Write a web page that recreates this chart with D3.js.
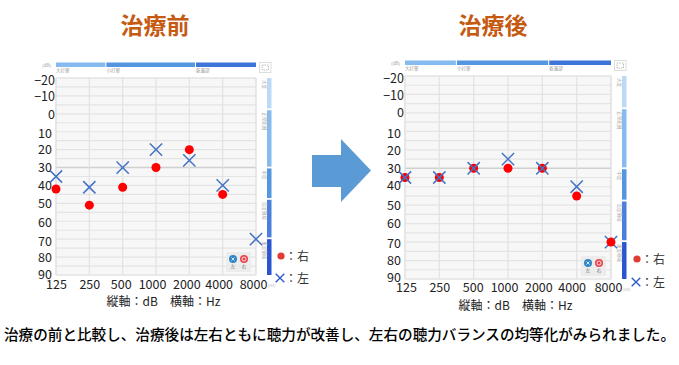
<!DOCTYPE html>
<html>
<head>
<meta charset="utf-8">
<script src="https://cdn.jsdelivr.net/npm/d3@7/dist/d3.min.js"></script>
<style>
  html, body { margin: 0; padding: 0; background: #fff; }
  svg { display: block; }
  text { font-family: "Noto Sans CJK JP", "Open Sans", sans-serif; }
</style>
</head>
<body>
<script>
const w = 679;
const h = 365;

// values
const freqs = ["125", "250", "500", "1000", "2000", "4000", "8000"];
const dbTicks = [-20, -10, 0, 10, 20, 30, 40, 50, 60, 70, 80, 90];
const gridDb = d3.range(-20, 95, 5);

const beforeRight = [42, 51, 41, 30, 20, 45, null];
const beforeLeft = [35, 41, 30, 20, 26, 40, 70];
const afterRight = [35, 35, 30, 30, 30, 45, 70];
const afterLeft = [35, 35, 30, 25, 30, 40, 70];

const hBands = ["大打撃", "小打撃", "乾濁部"];
const hBandEdges = [[0, 0.247], [0.252, 0.695], [0.7, 1]];
const hBandColors = ["#85bbee", "#5596e0", "#3f75d8"];
const vBands = ["大度", "正常範囲", "中度", "高度領域", "重度領域"];
const vBandColors = ["#bbdaf5", "#85bbee", "#5596e0", "#4a80dc", "#2a55d0"];
// dB limits of the right hand strip
const vBandDb = [[-20, -3], [-2, 29.5], [30.5, 47], [48, 69], [70, 90]];

const svg = d3.select("body").append("svg").attr("width", w).attr("height", h);

// left panel and right panel only differ in placement
drawPanel({
  title: "治療前", titleX: 155,
  x0: 56, x1: 256, y0: 78, y1: 275,
  rightEar: beforeRight, leftEar: beforeLeft,
  xShift: [0, 0, -2, -4, -3, -4, -3],
  yShift: [2, 1, 1, 2, 0, 0, 0, 0, 1, 2, 0, -1],
  tickY: 287, captionX: 163.5, captionY: 306,
  legendX: 281, legendY: [256, 278]
});
drawPanel({
  title: "治療後", titleX: 493,
  x0: 405, x1: 611, y0: 76, y1: 279,
  rightEar: afterRight, leftEar: afterLeft,
  xShift: [1, 0, -1, -4, -4, -5, -3],
  yShift: [2, 1, 0, 2, 1, 0, -1, 0, 0, 1, 0, -2],
  tickY: 290, captionX: 515.5, captionY: 310,
  legendX: 637, legendY: [259, 282]
});

function drawPanel(p) {
  const x = d3.scalePoint().domain(freqs).range([p.x0, p.x1]);
  const y = d3.scaleLinear().domain([-20, 90]).range([p.y0, p.y1]);
  const g = svg.append("g");

  g.append("text")
    .attr("x", p.titleX).attr("y", 34)
    .attr("text-anchor", "middle")
    .attr("font-size", 23).attr("font-weight", 700)
    .attr("fill", "#c55a11")
    .text(p.title);

  // plot background
  g.append("rect")
    .attr("x", p.x0).attr("y", p.y0)
    .attr("width", p.x1 - p.x0).attr("height", p.y1 - p.y0)
    .attr("fill", "#f7f7f7").attr("stroke", "#e4e4e4");

  g.selectAll(".hgrid").data(gridDb).enter().append("line")
    .attr("x1", p.x0).attr("x2", p.x1)
    .attr("y1", (d) => y(d)).attr("y2", (d) => y(d))
    .attr("stroke", (d) => (d === 30 ? "#d0d0d0" : "#e4e4e4"))
    .attr("stroke-width", (d) => (d === 30 ? 1.6 : 1.2));

  g.selectAll(".vgrid").data(freqs).enter().append("line")
    .attr("x1", (d) => x(d)).attr("x2", (d) => x(d))
    .attr("y1", p.y0).attr("y2", p.y1)
    .attr("stroke", "#e2e2e2").attr("stroke-width", 1.2);

  // top strip with the loudness bands
  const stripW = p.x1 - p.x0;
  const stripY = p.y0 - 15.5;
  hBands.forEach((name, i) => {
    const a = p.x0 + hBandEdges[i][0] * stripW;
    const b = p.x0 + hBandEdges[i][1] * stripW;
    g.append("rect").attr("x", a).attr("y", stripY)
      .attr("width", b - a).attr("height", 4.5)
      .attr("fill", hBandColors[i]);
    g.append("text").attr("x", a).attr("y", stripY + 9.5)
      .attr("font-size", 4.5).attr("fill", "#999").text(name);
  });
  g.append("text").attr("x", p.x0 - 2).attr("y", stripY + 4)
    .attr("text-anchor", "end").attr("font-size", 4.5).attr("fill", "#999")
    .text("（dB）");
  g.append("text").attr("x", p.x1 + 12).attr("y", p.y1 + 12)
    .attr("font-size", 4).attr("fill", "#bbb")
    .text("(Hz)");

  // fit icon
  g.append("rect").attr("x", p.x1 + 3.5).attr("y", stripY)
    .attr("width", 11.5).attr("height", 10)
    .attr("fill", "#fff").attr("stroke", "#ddd");
  g.append("rect").attr("x", p.x1 + 6).attr("y", stripY + 2.5)
    .attr("width", 6.5).attr("height", 5)
    .attr("fill", "none").attr("stroke", "#bbb").attr("stroke-dasharray", "1.5 1");

  // right strip
  vBands.forEach((name, i) => {
    const a = y(vBandDb[i][0]);
    const b = y(vBandDb[i][1]);
    g.append("rect").attr("x", p.x1 + 11).attr("y", a)
      .attr("width", 4.5).attr("height", b - a)
      .attr("fill", vBandColors[i]);
    g.append("text")
      .attr("transform", `translate(${p.x1 + 7},${a + 2}) rotate(90)`)
      .attr("font-size", 4.5).attr("fill", "#aaa").text(name);
  });

  // small ear key inside the plot
  const kx = p.x1 - 30;
  const ky = p.y1 - 23;
  g.append("rect").attr("x", kx).attr("y", ky)
    .attr("width", 25).attr("height", 20).attr("fill", "#ececec");
  g.append("circle").attr("cx", kx + 7).attr("cy", ky + 7).attr("r", 4).attr("fill", "#2f86c9");
  g.append("path")
    .attr("d", d3.line()([[kx + 5.5, ky + 5.5], [kx + 8.5, ky + 8.5]]) + d3.line()([[kx + 8.5, ky + 5.5], [kx + 5.5, ky + 8.5]]))
    .attr("stroke", "#fff").attr("stroke-width", 0.8);
  g.append("circle").attr("cx", kx + 18).attr("cy", ky + 7).attr("r", 4).attr("fill", "#e8434c");
  g.append("circle").attr("cx", kx + 18).attr("cy", ky + 7).attr("r", 2).attr("fill", "none")
    .attr("stroke", "#fff").attr("stroke-width", 0.8);
  g.append("text").attr("x", kx + 7).attr("y", ky + 16).attr("text-anchor", "middle")
    .attr("font-size", 4.5).attr("fill", "#777").text("左");
  g.append("text").attr("x", kx + 18).attr("y", ky + 16).attr("text-anchor", "middle")
    .attr("font-size", 4.5).attr("fill", "#777").text("右");

  // axes, only the labels are visible
  const yAxis = g.append("g")
    .attr("transform", `translate(${p.x0},0)`)
    .call(d3.axisLeft(y).tickValues(dbTicks).tickSize(0).tickPadding(1));
  yAxis.select(".domain").remove();
  yAxis.selectAll("text")
    .attr("font-family", '"Open Sans", sans-serif')
    .attr("font-size", 12.5).attr("fill", "#222")
    .attr("dx", (d) => (d > 0 ? -3 : 0))
    .attr("y", (d, i) => p.yShift[i]);

  const xAxis = g.append("g")
    .attr("transform", `translate(0,${p.tickY - 7})`)
    .call(d3.axisBottom(x).tickSize(0).tickPadding(0));
  xAxis.select(".domain").remove();
  xAxis.selectAll("text")
    .attr("font-family", '"Open Sans", sans-serif')
    .attr("font-size", 12.5).attr("fill", "#222")
    .attr("dx", (d, i) => p.xShift[i]);

  g.append("text")
    .attr("x", p.captionX).attr("y", p.captionY)
    .attr("text-anchor", "middle").attr("font-size", 12).attr("fill", "#222")
    .text("縦軸：dB　横軸：Hz");

  // marks
  const right = freqs.map((f, i) => ({ f, v: p.rightEar[i] })).filter((d) => d.v !== null);
  const left = freqs.map((f, i) => ({ f, v: p.leftEar[i] }));

  g.selectAll(".red").data(right).enter().append("circle")
    .attr("class", "red")
    .attr("cx", (d) => x(d.f)).attr("cy", (d) => y(d.v))
    .attr("r", 4.5).attr("fill", "#ff0000");

  g.selectAll(".cross").data(left).enter().append("path")
    .attr("class", "cross")
    .attr("d", d3.symbol(d3.symbolX, 100))
    .attr("transform", (d) => `translate(${x(d.f)},${y(d.v)})`)
    .attr("stroke", "#4472c4").attr("stroke-width", 1.5).attr("fill", "none");

  // at 8000 the red dot lies on top of the cross
  g.selectAll(".red").filter((d) => d.f === "8000").raise();

  // outer legend
  g.append("circle").attr("cx", p.legendX).attr("cy", p.legendY[0]).attr("r", 3.6).attr("fill", "#e03c31");
  g.append("path")
    .attr("d", d3.symbol(d3.symbolX, 50))
    .attr("transform", `translate(${p.legendX - 1},${p.legendY[1]})`)
    .attr("stroke", "#2f5bc8").attr("stroke-width", 1.4).attr("fill", "none");
  [["：右", p.legendY[0]], ["：左", p.legendY[1]]].forEach((t) => {
    g.append("text").attr("x", p.legendX + 4).attr("y", t[1] + 4.5)
      .attr("font-size", 12).attr("fill", "#333").text(t[0]);
  });
}

// arrow between the panels
svg.append("path")
  .attr("d", d3.line()([[312, 155], [341, 155], [341, 139], [371, 170.5], [341, 202], [341, 187], [312, 187]]) + "Z")
  .attr("fill", "#5b9bd5");

svg.append("text")
  .attr("x", 4).attr("y", 340)
  .attr("font-size", 14.6).attr("font-weight", 500).attr("fill", "#000")
  .text("治療の前と比較し、治療後は左右ともに聴力が改善し、左右の聴力バランスの均等化がみられました。");
</script>
</body>
</html>
